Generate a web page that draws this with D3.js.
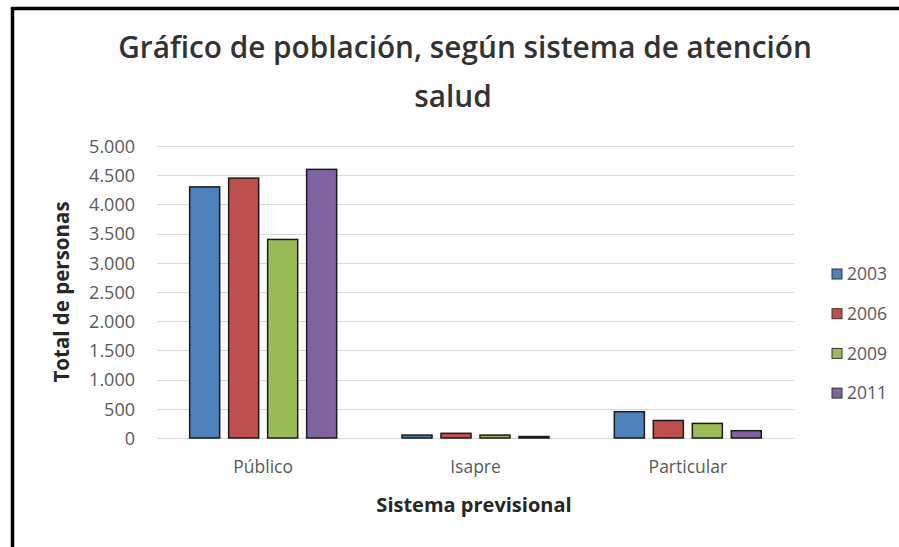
<!DOCTYPE html>
<html><head><meta charset="utf-8">
<script src="https://cdn.jsdelivr.net/npm/d3@7"></script>
<style>body{margin:0;background:#fff}svg{display:block}</style>
</head><body>
<script>
const categories = ["Público", "Isapre", "Particular"];
const years = ["2003", "2006", "2009", "2011"];
const v2003 = [4300, 50, 450];
const v2006 = [4450, 80, 300];
const v2009 = [3400, 50, 250];
const v2011 = [4600, 25, 125];
const seriesValues = [v2003, v2006, v2009, v2011];
const yTicks = [0, 500, 1000, 1500, 2000, 2500, 3000, 3500, 4000, 4500, 5000];
const colors = ["#4f81bd", "#c0504d", "#9bbb59", "#8064a2"];
const titleLines = ["Gráfico de población, según sistema de atención", "salud"];

const W = 899, H = 547;
const svg = d3.select("body").append("svg").attr("width", W).attr("height", H);
const font = "'Open Sans', sans-serif";

// frame
svg.append("rect").attr("x", 0).attr("y", 0).attr("width", W).attr("height", H).attr("fill", "#fff");
svg.append("line").attr("x1", 11).attr("x2", W).attr("y1", 8.5).attr("y2", 8.5).attr("stroke", "#000").attr("stroke-width", 3.5);
svg.append("line").attr("x1", 12.5).attr("x2", 12.5).attr("y1", 7).attr("y2", H).attr("stroke", "#000").attr("stroke-width", 3.5);

const pLeft = 157, pRight = 794, pTop = 146, pBottom = 438;
const x0 = d3.scaleBand().domain(categories).range([pLeft, pRight]).paddingInner(0).paddingOuter(0);
const x1 = d3.scaleBand().domain(years).range([0, 147]).paddingInner(0.23);
const y = d3.scaleLinear().domain([0, 5000]).range([pBottom, pTop]);

// gridlines
svg.append("g").selectAll("line").data(yTicks).join("line")
  .attr("x1", pLeft).attr("x2", pRight)
  .attr("y1", d => Math.round(y(d)) + 0.5).attr("y2", d => Math.round(y(d)) + 0.5)
  .attr("stroke", "#d9d9d9").attr("stroke-width", 1);

// y axis labels
const fmt = d => d3.format(",")(d).replace(/,/g, ".");
const yAxis = d3.axisLeft(y).tickValues(yTicks).tickFormat(fmt).tickSize(0).tickPadding(0);
const ga = svg.append("g").attr("transform", `translate(${135},0)`).call(yAxis);
ga.select(".domain").remove();
ga.selectAll("text").attr("font-family", font).attr("font-size", 18).attr("fill", "#595959").attr("dy", "0.35em");

// bars
const groups = svg.append("g").selectAll("g").data(categories).join("g")
  .attr("transform", d => `translate(${x0(d) + x0.bandwidth() / 2 - 73.5},0)`);
groups.selectAll("rect").data((c, i) => years.map((yr, s) => ({yr, s, v: seriesValues[s][i]}))).join("rect")
  .attr("x", d => x1(d.yr)).attr("width", x1.bandwidth())
  .attr("y", d => y(d.v)).attr("height", d => pBottom - y(d.v))
  .attr("fill", d => colors[d.s]).attr("stroke", "#1a1a1a").attr("stroke-width", 1.5);

// x axis labels
const xAxis = d3.axisBottom(x0).tickSize(0).tickPadding(0);
const gx = svg.append("g").attr("transform", `translate(0,${467})`).call(xAxis);
gx.select(".domain").remove();
gx.selectAll("text").attr("font-family", font).attr("font-size", 17.5).attr("fill", "#595959").attr("dy", "0.35em");

// axis titles
svg.append("text").attr("x", 474).attr("y", 505).attr("text-anchor", "middle").attr("dy", "0.35em")
  .attr("font-family", font).attr("font-size", 20).attr("font-weight", "bold").attr("fill", "#262626")
  .text("Sistema previsional");
svg.append("text").attr("transform", "translate(62,292) rotate(-90)").attr("text-anchor", "middle").attr("dy", "0.35em")
  .attr("font-family", font).attr("font-size", 20.5).attr("font-weight", "bold").attr("fill", "#262626")
  .text("Total de personas");

// title (font size fitted to the reference's title width)
const t = svg.append("text").attr("text-anchor", "middle").attr("font-family", font)
  .attr("font-size", 30).attr("font-weight", 600).attr("fill", "#333");
const l1 = t.append("tspan").attr("x", 465).attr("y", 58).text(titleLines[0]);
t.append("tspan").attr("x", 453).attr("y", 107).text(titleLines[1]);
const len = l1.node().getComputedTextLength();
if (len > 0) t.attr("font-size", 30 * 694 / len);

// legend
const lg = svg.append("g").selectAll("g").data(years).join("g")
  .attr("transform", (d, i) => `translate(832,${274 + i * 39.7})`);
lg.append("rect").attr("x", 0).attr("y", -5).attr("width", 10).attr("height", 10)
  .attr("fill", (d, i) => colors[i]).attr("stroke", "#333").attr("stroke-width", 1);
lg.append("text").attr("x", 15).attr("dy", "0.35em").attr("font-family", font).attr("font-size", 17.5)
  .attr("fill", "#595959").text(d => d);
</script>
</body></html>
